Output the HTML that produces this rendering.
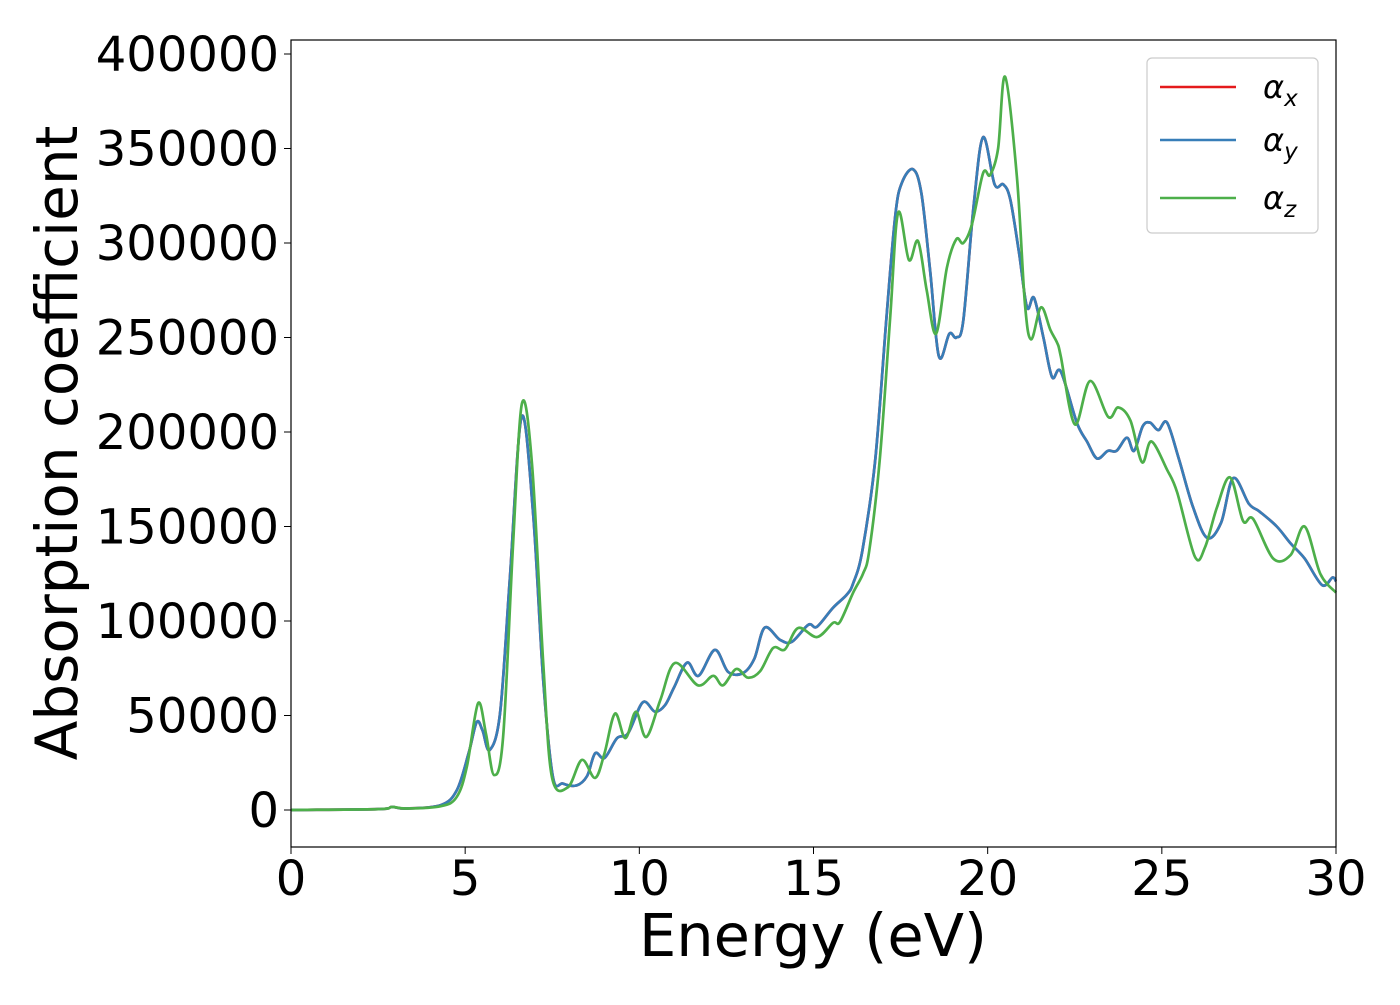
<!DOCTYPE html>
<html><head><meta charset="utf-8"><style>
body{margin:0;background:#fff}
svg text{font-family:"DejaVu Sans","Liberation Sans",sans-serif;fill:#000}
</style></head><body>
<svg id="chart" width="1400" height="1000" viewBox="0 0 1400 1000" xmlns="http://www.w3.org/2000/svg">
<rect x="0" y="0" width="1400" height="1000" fill="#fff"/>
<g id="series"></g>
<rect x="291" y="40" width="1045" height="807" fill="none" stroke="#000" stroke-width="1.2"/>
<g id="xticks"></g>
<g id="yticks"></g>
<text x="813" y="956" font-size="59" text-anchor="middle">Energy (eV)</text>
<text transform="translate(77,443) rotate(-90)" font-size="58" text-anchor="middle">Absorption coefficient</text>
<g>
<rect x="1147" y="58" width="171" height="175" rx="5" fill="#fff" stroke="#ccc" stroke-width="1.2"/>
<line x1="1160" y1="87" x2="1236" y2="87" stroke="#e41a1c" stroke-width="2.5"/>
<text x="1263" y="98" font-size="32" font-style="italic">α<tspan font-size="23" dy="8">x</tspan></text>
<line x1="1160" y1="140" x2="1236" y2="140" stroke="#377eb8" stroke-width="2.5"/>
<text x="1263" y="151" font-size="32" font-style="italic">α<tspan font-size="23" dy="8">y</tspan></text>
<line x1="1160" y1="198" x2="1236" y2="198" stroke="#4daf4a" stroke-width="2.5"/>
<text x="1263" y="209" font-size="32" font-style="italic">α<tspan font-size="23" dy="8">z</tspan></text>
</g>
</svg>
<script>
const xTicks=[0,5,10,15,20,25,30];
const yTicks=[0,50000,100000,150000,200000,250000,300000,350000,400000];
const energyXY=[0,2.5,2.9,3.3,4.3,4.76,5.1,5.33,5.5,5.7,6.0,6.28,6.62,6.95,7.24,7.52,7.8,8.2,8.5,8.73,9.0,9.36,9.68,10.1,10.45,10.74,11.0,11.37,11.7,12.17,12.55,12.98,13.3,13.6,14.04,14.38,14.85,15.1,15.56,15.96,16.14,16.4,16.77,17.1,17.35,17.54,17.86,18.1,18.35,18.6,18.9,19.1,19.3,19.6,19.87,20.2,20.45,20.65,20.9,21.13,21.33,21.6,21.85,22.1,22.56,22.85,23.14,23.45,23.7,24.0,24.2,24.45,24.66,24.9,25.15,25.5,25.9,26.3,26.7,27.05,27.5,27.8,28.3,28.7,29.1,29.6,29.9,30];
const alphaX=[0,500,1600,800,2600,10500,30000,46500,42000,31700,51000,122000,208000,157000,69000,17500,14000,13000,18000,30000,27500,38000,40700,57000,52000,55500,65000,78000,71000,84700,73000,72500,80000,96500,90000,89000,98000,97000,107000,114000,120000,137000,185000,262000,315000,332000,339000,326000,285000,240000,252000,250000,259000,320000,356000,331000,331000,323000,295000,266000,271000,250000,229000,232000,205000,195000,186000,190000,190000,197000,190000,203000,205000,201000,205000,185000,160000,144000,152000,175600,162000,158000,150000,141000,133000,119000,123000,121000];
const alphaY=alphaX.slice();
const energyZ=[0,2.5,2.9,3.3,4.3,4.76,5.05,5.37,5.6,5.83,6.09,6.37,6.63,6.92,7.24,7.49,7.95,8.35,8.73,9.0,9.3,9.6,9.9,10.2,10.6,11.02,11.68,12.12,12.4,12.78,13.12,13.47,13.84,14.18,14.56,15.1,15.56,15.76,16.14,16.42,16.6,16.9,17.2,17.43,17.74,18.0,18.25,18.52,18.83,19.1,19.3,19.55,19.87,20.07,20.3,20.5,20.84,21.07,21.25,21.53,21.8,22.0,22.1,22.5,22.94,23.46,23.75,24.1,24.43,24.7,25.15,25.44,25.95,26.24,26.58,26.96,27.33,27.62,28.2,28.7,29.1,29.55,30];
const alphaZ=[0,500,1600,800,2000,7000,23000,56500,40000,18500,38600,139000,215000,183000,78000,17500,12000,26500,17000,30000,51000,38000,52000,38600,58000,77800,66000,71000,66000,74600,70000,73500,85700,85000,96300,91500,99000,99500,115000,125000,137000,185000,260000,316000,291000,301000,275000,252000,287000,302000,300000,310000,337000,336000,350000,388000,335000,268000,249000,266000,254000,247000,240000,204000,227000,208000,213000,206000,184000,195000,180000,168000,134000,139000,160000,176000,153000,154000,133000,135000,150000,125000,115000];

const X0=291,X1=1336,Y0=810,YTOP=54;
const xs=e=>X0+(e-0)/30*(X1-X0);
const ys=v=>Y0-v/400000*(Y0-YTOP);
const NS="http://www.w3.org/2000/svg";
function smoothPath(ex,vy){
  const p=ex.map((e,i)=>[xs(e),ys(vy[i])]);
  let d="M"+p[0][0].toFixed(1)+","+p[0][1].toFixed(1);
  for(let i=0;i<p.length-1;i++){
    const a=p[Math.max(i-1,0)],b=p[i],c=p[i+1],n=p[Math.min(i+2,p.length-1)];
    const c1=[b[0]+(c[0]-a[0])/6,b[1]+(c[1]-a[1])/6],c2=[c[0]-(n[0]-b[0])/6,c[1]-(n[1]-b[1])/6];
    d+=" C"+c1[0].toFixed(1)+","+c1[1].toFixed(1)+" "+c2[0].toFixed(1)+","+c2[1].toFixed(1)+" "+c[0].toFixed(1)+","+c[1].toFixed(1);
  }
  return d;
}
const sg=document.getElementById("series");
[[energyXY,alphaX,"#e41a1c","line-alpha-x"],[energyXY,alphaY,"#377eb8","line-alpha-y"],[energyZ,alphaZ,"#4daf4a","line-alpha-z"]].forEach(s=>{
  const path=document.createElementNS(NS,"path");
  path.setAttribute("d",smoothPath(s[0],s[1]));
  path.setAttribute("fill","none");path.setAttribute("stroke",s[2]);path.setAttribute("stroke-width","2.7");
  
  
  sg.appendChild(path);
});
const xg=document.getElementById("xticks");
xTicks.forEach(t=>{
  const l=document.createElementNS(NS,"line");
  l.setAttribute("x1",xs(t));l.setAttribute("x2",xs(t));l.setAttribute("y1",847);l.setAttribute("y2",854);l.setAttribute("stroke","#000");
  
  
  xg.appendChild(l);
  const tx=document.createElementNS(NS,"text");
  tx.setAttribute("x",xs(t));tx.setAttribute("y",895);tx.setAttribute("font-size","48");tx.setAttribute("text-anchor","middle");
  tx.textContent=t;
  
  
  xg.appendChild(tx);
});
const yg=document.getElementById("yticks");
yTicks.forEach(t=>{
  const l=document.createElementNS(NS,"line");
  l.setAttribute("x1",284);l.setAttribute("x2",291);l.setAttribute("y1",ys(t));l.setAttribute("y2",ys(t));l.setAttribute("stroke","#000");
  
  
  yg.appendChild(l);
  const tx=document.createElementNS(NS,"text");
  tx.setAttribute("x",279);tx.setAttribute("y",ys(t)+17);tx.setAttribute("font-size","48");tx.setAttribute("text-anchor","end");
  tx.textContent=t;
  
  
  yg.appendChild(tx);
});
</script>
</body></html>
